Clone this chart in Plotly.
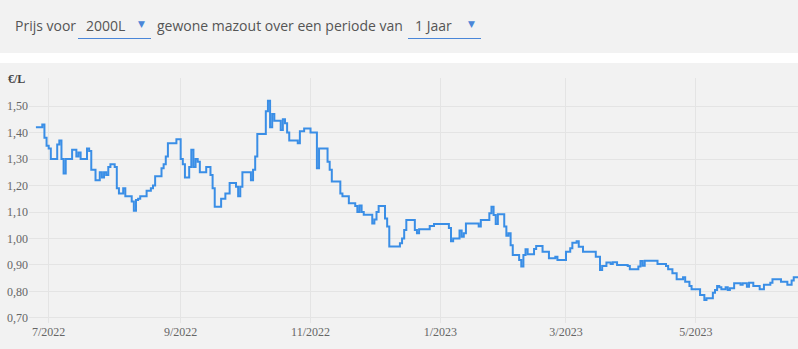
import plotly.graph_objects as go

dates = ["2022-06-25","2022-06-28","2022-06-29","2022-06-30","2022-07-01","2022-07-02","2022-07-05","2022-07-06","2022-07-07","2022-07-08","2022-07-09","2022-07-12","2022-07-14","2022-07-15","2022-07-16","2022-07-19","2022-07-20","2022-07-21","2022-07-23","2022-07-25","2022-07-26","2022-07-27","2022-07-28","2022-07-29","2022-07-30","2022-08-01","2022-08-02","2022-08-03","2022-08-05","2022-08-06","2022-08-09","2022-08-10","2022-08-11","2022-08-12","2022-08-13","2022-08-16","2022-08-18","2022-08-19","2022-08-20","2022-08-23","2022-08-24","2022-08-25","2022-08-26","2022-08-30","2022-09-01","2022-09-02","2022-09-03","2022-09-05","2022-09-06","2022-09-07","2022-09-08","2022-09-09","2022-09-10","2022-09-13","2022-09-15","2022-09-16","2022-09-17","2022-09-20","2022-09-22","2022-09-24","2022-09-27","2022-09-28","2022-09-29","2022-09-30","2022-10-04","2022-10-05","2022-10-06","2022-10-07","2022-10-11","2022-10-12","2022-10-13","2022-10-14","2022-10-15","2022-10-18","2022-10-19","2022-10-20","2022-10-21","2022-10-22","2022-10-26","2022-10-27","2022-10-29","2022-11-01","2022-11-04","2022-11-05","2022-11-09","2022-11-10","2022-11-11","2022-11-15","2022-11-16","2022-11-19","2022-11-22","2022-11-23","2022-11-24","2022-11-25","2022-11-26","2022-11-30","2022-12-01","2022-12-02","2022-12-03","2022-12-06","2022-12-07","2022-12-08","2022-12-13","2022-12-14","2022-12-15","2022-12-16","2022-12-20","2022-12-21","2022-12-22","2022-12-27","2022-12-29","2023-01-05","2023-01-06","2023-01-07","2023-01-10","2023-01-11","2023-01-12","2023-01-13","2023-01-19","2023-01-20","2023-01-24","2023-01-25","2023-01-26","2023-01-27","2023-01-28","2023-01-31","2023-02-01","2023-02-02","2023-02-03","2023-02-04","2023-02-07","2023-02-08","2023-02-09","2023-02-10","2023-02-11","2023-02-14","2023-02-15","2023-02-18","2023-02-21","2023-02-24","2023-02-25","2023-03-01","2023-03-03","2023-03-04","2023-03-06","2023-03-07","2023-03-09","2023-03-15","2023-03-17","2023-03-18","2023-03-20","2023-03-22","2023-03-23","2023-03-25","2023-03-30","2023-03-31","2023-04-04","2023-04-05","2023-04-06","2023-04-07","2023-04-13","2023-04-17","2023-04-18","2023-04-20","2023-04-22","2023-04-25","2023-04-26","2023-04-28","2023-04-29","2023-05-03","2023-05-05","2023-05-06","2023-05-09","2023-05-10","2023-05-11","2023-05-12","2023-05-13","2023-05-15","2023-05-16","2023-05-17","2023-05-19","2023-05-22","2023-05-23","2023-05-25","2023-05-26","2023-05-28","2023-05-31","2023-06-02","2023-06-05","2023-06-06","2023-06-10","2023-06-13","2023-06-15","2023-06-16","2023-06-18"]

prices = [1.42,1.43,1.38,1.35,1.34,1.30,1.355,1.37,1.30,1.245,1.30,1.335,1.31,1.325,1.30,1.34,1.33,1.26,1.22,1.25,1.23,1.25,1.24,1.27,1.28,1.27,1.19,1.17,1.19,1.16,1.14,1.105,1.145,1.15,1.16,1.18,1.19,1.20,1.235,1.265,1.28,1.31,1.36,1.375,1.30,1.28,1.23,1.27,1.335,1.27,1.30,1.29,1.25,1.27,1.24,1.19,1.12,1.15,1.17,1.21,1.195,1.16,1.195,1.25,1.22,1.26,1.31,1.395,1.48,1.52,1.42,1.47,1.445,1.41,1.45,1.435,1.40,1.37,1.36,1.405,1.415,1.40,1.265,1.34,1.29,1.26,1.215,1.17,1.16,1.133,1.123,1.10,1.125,1.10,1.09,1.057,1.072,1.10,1.123,1.076,1.045,0.97,0.982,1.00,1.032,1.07,1.032,1.02,1.035,1.047,1.055,1.04,0.99,1.00,1.03,1.007,1.02,1.057,1.045,1.07,1.095,1.12,1.089,1.055,1.092,1.045,1.01,1.02,0.975,0.938,0.919,0.894,0.938,0.959,0.941,0.96,0.972,0.95,0.925,0.931,0.919,0.95,0.963,0.984,0.99,0.969,0.95,0.931,0.881,0.896,0.909,0.904,0.91,0.90,0.896,0.884,0.894,0.915,0.897,0.916,0.904,0.896,0.884,0.869,0.846,0.854,0.837,0.821,0.808,0.787,0.768,0.774,0.795,0.806,0.821,0.816,0.808,0.816,0.806,0.812,0.831,0.825,0.831,0.818,0.833,0.821,0.808,0.825,0.833,0.846,0.837,0.825,0.841,0.854,0.854]

W, H = 798, 349
ML, MR, MT, MB = 29, 0, 78, 26
PW, PH = W - ML - MR, H - MT - MB

def px(x):
    return (x - ML) / PW

def py(y):
    return (H - MB - y) / PH

BG = "#f2f2f2"
TXT = "#555555"
BLUE = "#4a86d8"
SERIF = "Liberation Serif, Times New Roman, serif"

fig = go.Figure()
fig.add_trace(go.Scatter(
    x=dates, y=prices, mode="lines", line=dict(shape="hv", color="#3a8ee6", width=2),
    hoverinfo="x+y", showlegend=False,
))

shapes = [
    dict(type="rect", xref="paper", yref="paper", x0=px(0), x1=px(W), y0=py(63), y1=py(53),
         fillcolor="white", line=dict(width=0), layer="below"),
    dict(type="line", xref="paper", yref="paper", x0=px(78), x1=px(151), y0=py(38.5), y1=py(38.5),
         line=dict(color=BLUE, width=1)),
    dict(type="line", xref="paper", yref="paper", x0=px(408), x1=px(481), y0=py(38.5), y1=py(38.5),
         line=dict(color=BLUE, width=1)),
]

hfont = dict(family="Open Sans", size=14, color=TXT)
annotations = [
    dict(text="Prijs voor", x=px(13), y=py(25), xanchor="left", yanchor="middle", font=hfont),
    dict(text="2000L", x=px(84), y=py(25), xanchor="left", yanchor="middle", font=hfont),
    dict(text="▼", x=px(141), y=py(24), xanchor="center", yanchor="middle",
         font=dict(family="DejaVu Sans", size=9, color=BLUE)),
    dict(text="gewone mazout over een periode van", x=px(155), y=py(25), xanchor="left", yanchor="middle", font=hfont),
    dict(text="1 Jaar", x=px(413), y=py(25), xanchor="left", yanchor="middle", font=hfont),
    dict(text="▼", x=px(471), y=py(24), xanchor="center", yanchor="middle",
         font=dict(family="DejaVu Sans", size=9, color=BLUE)),
    dict(text="<b>€/L</b>", x=px(6), y=py(79), xanchor="left", yanchor="middle",
         font=dict(family=SERIF, size=12, color="#444444")),
]
for a in annotations:
    a.update(xref="paper", yref="paper", showarrow=False)

fig.update_layout(
    width=W, height=H,
    margin=dict(l=ML, r=MR, t=MT, b=MB, pad=0),
    paper_bgcolor=BG, plot_bgcolor=BG,
    separators=", ",
    shapes=shapes, annotations=annotations,
    xaxis=dict(
        range=["2022-06-21 18:00", "2023-06-18"],
        tickformat="%-m/%Y", dtick="M2", tick0="2022-07-01",
        showgrid=True, gridcolor="#e4e4e4", gridwidth=1,
        zeroline=False, showline=False, ticks="",
        tickfont=dict(family=SERIF, size=12, color="#666666"),
    ),
    yaxis=dict(
        range=[0.681, 1.606],
        tickvals=[0.7, 0.8, 0.9, 1.0, 1.1, 1.2, 1.3, 1.4, 1.5],
        tickformat=".2f",
        showgrid=True, gridcolor="#e4e4e4", gridwidth=1,
        zeroline=False, showline=False, ticks="",
        tickfont=dict(family=SERIF, size=12, color="#666666"),
    ),
)

fig.write_html("out.html")
